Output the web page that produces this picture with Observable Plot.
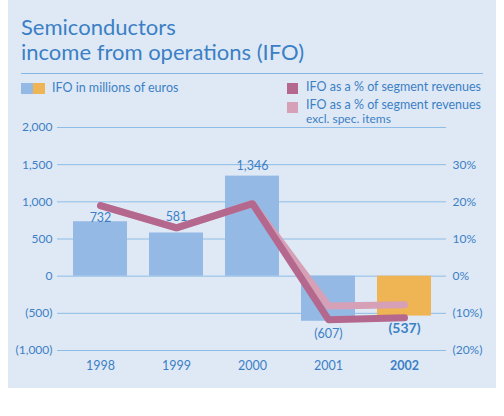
<!DOCTYPE html>
<html>
<head>
<meta charset="utf-8">
<script src="https://cdn.jsdelivr.net/npm/d3@7"></script>
<script src="https://cdn.jsdelivr.net/npm/@observablehq/plot@0.6"></script>
<style>
  body { margin: 0; background: #fff; font-family: Lato, sans-serif; }
  #wrap { position: relative; width: 504px; height: 416px; overflow: hidden; }
  #panel { position: absolute; left: 8px; top: 0; width: 488px; height: 388px; background: #dfe9f6; }
  .title { position: absolute; left: 21px; font-size: 22px; line-height: 22px; color: #3b80c5; white-space: nowrap; }
  .rule { position: absolute; left: 21px; top: 73px; width: 462px; height: 1px; background: #86b7e2; }
  .leg { position: absolute; font-size: 12.5px; line-height: 12px; color: #3b80c5; white-space: nowrap; }
  .sw { position: absolute; width: 11px; height: 11px; }
  #chart { position: absolute; left: 0; top: 0; }
</style>
</head>
<body>
<div id="wrap">
  <div id="panel"></div>
  <div class="title" style="top:16px">Semiconductors</div>
  <div class="title" style="top:41px">income from operations (IFO)</div>
  <div class="rule"></div>
  <div class="sw" style="left:21px;top:83px;width:12px;background:#94b9e4"></div>
  <div class="sw" style="left:33px;top:83px;width:12px;background:#efb453"></div>
  <div class="leg" style="left:52px;top:82px">IFO in millions of euros</div>
  <div class="sw" style="left:287px;top:83px;background:#b5688e"></div>
  <div class="leg" style="left:306px;top:81px">IFO as a % of segment revenues</div>
  <div class="sw" style="left:287px;top:102px;background:#d6a0b7"></div>
  <div class="leg" style="left:306px;top:99px">IFO as a % of segment revenues</div>
  <div class="leg" style="left:306px;top:113px;font-size:12px">excl. spec. items</div>
  <div id="chart"></div>
</div>
<script>
const years = ["1998", "1999", "2000", "2001", "2002"]
const ifo = [732, 581, 1346, -607, -537]
const pctRevenues = [19, 13, 19.5, -11.7, -11.2]
const pctExclSpecial = [19, 13, 19.5, -8, -7.7]
const leftTicks = [-1000, -500, 0, 500, 1000, 1500, 2000]
const rightTicks = [-20, -10, 0, 10, 20, 30]

const blue = "#3b80c5"
const barBlue = "#94b9e4"
const barOrange = "#efb453"

// 1% van de omzet op de rechteras = 50 mln op de linkeras
const pctToY = 50

const bars = years.map((year, i) => ({year, value: ifo[i]}))
const lineA = years.map((year, i) => ({year, pct: pctRevenues[i]}))
const lineB = years.map((year, i) => ({year, pct: pctExclSpecial[i]}))

const num = d => d < 0 ? `(${d3.format(",")(-d)})` : d3.format(",")(d)
const pct = d => d < 0 ? `(${-d}%)` : `${d}%`

// elk label een eigen verschuiving, om de lijnen te ontwijken
const label = (year, dy, extra = {}) => Plot.text(bars.filter(d => d.year === year), {
  x: "year", y: "value", text: d => num(d.value), dy, fill: blue, fontSize: 12.5, ...extra
})

let chart = Plot.plot({
  width: 504,
  height: 416,
  marginTop: 127,
  marginBottom: 66,
  marginLeft: 57,
  marginRight: 58,
  style: {background: "transparent", fontFamily: "Lato, sans-serif", overflow: "visible"},
  x: {domain: years, paddingInner: 0.294, paddingOuter: 0.19, axis: null},
  y: {domain: [-1000, 2000], axis: null},
  marks: [
    Plot.ruleY(leftTicks, {stroke: "#8dbce6", strokeWidth: 1}),
    Plot.barY(bars, {
      x: "year",
      y: "value",
      fill: d => d.year === "2002" ? barOrange : barBlue
    }),
    Plot.line(lineB, {x: "year", y: d => d.pct * pctToY, stroke: "#d6a0b7", strokeWidth: 7, strokeLinejoin: "round"}),
    Plot.line(lineA, {x: "year", y: d => d.pct * pctToY, stroke: "#b5688e", strokeWidth: 7, strokeLinejoin: "round"}),
    label("1998", -4),
    label("1999", -16),
    label("2000", -10),
    label("2001", 13),
    label("2002", 12, {fontSize: 14, fontWeight: "bold"}),
    Plot.axisY(leftTicks, {anchor: "left", tickSize: 0, tickPadding: 5, tickFormat: num, fill: blue, fontSize: 12, label: null}),
    Plot.axisY(rightTicks.map(p => p * pctToY), {anchor: "right", tickSize: 0, tickPadding: 6, tickFormat: d => pct(d / pctToY), fill: blue, fontSize: 12, label: null}),
    Plot.axisX(years.filter(y => y !== "2002"), {anchor: "bottom", tickSize: 0, tickPadding: 11, fill: blue, fontSize: 12.5, label: null}),
    Plot.axisX(["2002"], {anchor: "bottom", tickSize: 0, tickPadding: 11, fill: blue, fontSize: 12.5, fontWeight: "bold", label: null})
  ]
})

d3.select("#chart").append(() => chart)
</script>
</body>
</html>
